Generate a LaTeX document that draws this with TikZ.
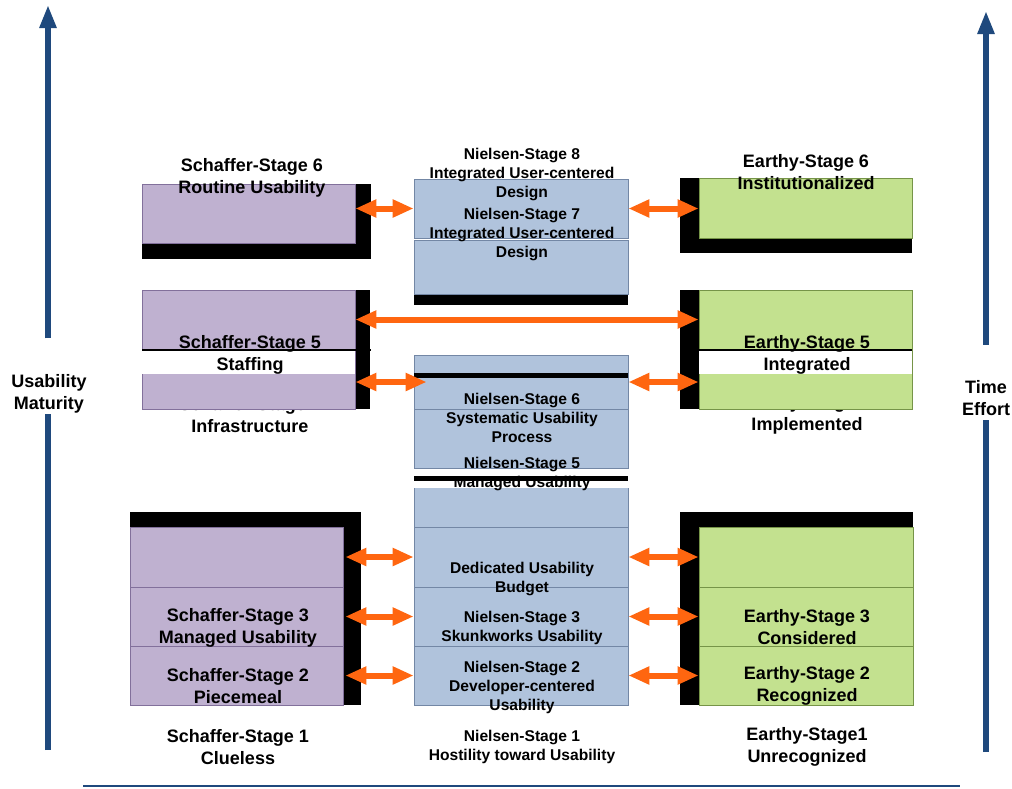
\documentclass[tikz,border=0pt]{standalone}
\usepackage{fontspec}
\setmainfont{Liberation Sans}
\usetikzlibrary{arrows.meta,fit}
\definecolor{purp}{RGB}{191,177,208}
\definecolor{purpline}{RGB}{130,112,155}
\definecolor{bluef}{RGB}{176,195,220}
\definecolor{blueline}{RGB}{115,135,165}
\definecolor{greenf}{RGB}{195,225,143}
\definecolor{greenline}{RGB}{118,148,72}
\definecolor{oran}{RGB}{255,102,16}
\definecolor{navy}{RGB}{31,73,125}
\begin{document}
\begin{tikzpicture}[x=1pt,y=-1pt,
  pbox/.style={fill=purp,draw=purpline,line width=0.8pt,inner sep=0pt},
  bbox/.style={fill=bluef,draw=blueline,line width=0.8pt,inner sep=0pt},
  gbox/.style={fill=greenf,draw=greenline,line width=0.8pt,inner sep=0pt},
  big/.style={font=\fontsize{18}{22}\selectfont\bfseries,align=center,inner sep=0pt},
  small/.style={font=\fontsize{15.6}{19}\selectfont\bfseries,align=center,inner sep=0pt},
  oarr/.style={draw=oran,line width=6pt,{Triangle[length=21pt,width=17pt]}-{Triangle[length=21pt,width=17pt]}},
  barr/.style={draw=navy,line width=5.5pt},
  btip/.style={-{Triangle[length=23pt,width=16pt]}},
]
\useasboundingbox (0,0) rectangle (1012,788);

% ---------- side axes ----------
\node[big] (um) at (49,394) {Usability\\Maturity};
\coordinate (lb) at (48,750);
\coordinate (lt) at (48,5);
\draw[barr] (lb) -- (lb |- um.south);
\draw[barr,btip] ([yshift=36pt]lt |- um.north) -- (lt);

\node[big] (te) at (986,398.5) {Time\\Effort};
\coordinate (rb) at (986,752);
\coordinate (rt) at (986,11);
\draw[barr] (rb) -- ([yshift=-4pt]rb |- te.south);
\draw[barr,btip] ([yshift=36pt]rt |- te.north) -- (rt);

\coordinate (bl) at (83,786);
\coordinate (br) at (960,786);
\draw[navy,line width=2pt] (bl) -- (br);

% ---------- top row ----------
\fill[black] (142,184) rectangle (371,259);
\node[pbox,fit={(142,184) (355,243)}] (s6) {};
\node[big] (ts6) at (252,178) {Schaffer-Stage 6\\Routine Usability};

\fill[black] (414,293) rectangle (628,305);
\node[bbox,fit={(414,179) (628,238)}] (n8) {};
\node[bbox,fit={(414,240) (628,294)}] (n7) {};
\node[small] (tn8) at (522,174) {Nielsen-Stage 8\\Integrated User-centered\\Design};
\node[small] (tn7) at (522,234) {Nielsen-Stage 7\\Integrated User-centered\\Design};

\fill[black] (680,178) rectangle (912,253);
\node[gbox,fit={(699,178) (912,238)}] (e6) {};
\node[big] (te6) at (806,172.5) {Earthy-Stage 6\\Institutionalized};

\draw[oarr] (s6.east |- n8.west) -- (n8.west);
\draw[oarr] (n8.east) -- (n8.east -| e6.west);

% ---------- second row ----------
\node[big] (ts4) at (250,415) {Schaffer-Stage 4\\Infrastructure};
\fill[black] (142,290) rectangle (370,409);
\node[pbox,fit={(142,290) (355,409)}] (s5) {};
\fill[white] (141.6,350) rectangle (355,374);
\draw[black,line width=1.2pt] (142,350) -- (371,350);
\node[big] (ts5) at (250,355) {Schaffer-Stage 5\\Staffing};

\node[big] (te4) at (807,415) {Earthy-Stage 4\\Implemented};
\fill[black] (680,290) rectangle (912,409);
\node[gbox,fit={(699,290) (912,409)}] (e5) {};
\fill[white] (699,350) rectangle (912.4,374);
\draw[black,line width=1.2pt] (680,350) -- (912,350);
\node[big] (te5) at (807,355) {Earthy-Stage 5\\Integrated};

% ---------- middle stack ----------
\node[bbox,fit={(414,468) (628,527)}] (c3) {};
\fill[white] (413.5,468) rectangle (628.5,488);
\node[bbox,fit={(414,355) (628,409)}] (c1) {};
\node[bbox,fit={(414,409) (628,468)}] (c2) {};
\node[bbox,fit={(414,527) (628,587)}] (c4) {};
\node[bbox,fit={(414,587) (628,646)}] (c5) {};
\node[bbox,fit={(414,646) (628,705)}] (c6) {};
\fill[black] (414,373) rectangle (628,378);

\node[small] (tn6) at (522,418) {Nielsen-Stage 6\\Systematic Usability\\Process};
\node[small] (tn5) at (522,473.5) {Nielsen-Stage 5\\Managed Usability};
\fill[black] (414,476) rectangle (628,481);
\node[small] (tn4) at (522,578.5) {Dedicated Usability\\Budget};
\node[small] (tn3) at (522,628) {Nielsen-Stage 3\\Skunkworks Usability};
\node[small] (tn2) at (522,687) {Nielsen-Stage 2\\Developer-centered\\Usability};
\node[small] (tn1) at (522,746.5) {Nielsen-Stage 1\\Hostility toward Usability};

\draw[oarr] ([yshift=30pt]s5.east) -- ([yshift=30pt]s5.east -| e5.west);
\draw[oarr] (s5.east |- c1.west) -- ([xshift=13pt]c1.west);
\draw[oarr] (c1.east) -- (c1.east -| e5.west);

% ---------- bottom left ----------
\fill[black] (130,512) rectangle (361,705);
\node[pbox,fit={(130,527) (343,587)}] (s4c) {};
\node[pbox,fit={(130,587) (343,646)}] (s3) {};
\node[pbox,fit={(130,646) (343,705)}] (s2) {};
\node[big] (ts3) at (238,627.5) {Schaffer-Stage 3\\Managed Usability};
\node[big] (ts2) at (238,686) {Schaffer-Stage 2\\Piecemeal};
\node[big] (ts1) at (238,747) {Schaffer-Stage 1\\Clueless};

% ---------- bottom right ----------
\fill[black] (680,512) rectangle (913,705);
\node[gbox,fit={(699,527) (913,587)}] (e4c) {};
\node[gbox,fit={(699,587) (913,646)}] (e3) {};
\node[gbox,fit={(699,646) (913,705)}] (e2) {};
\node[big] (te3) at (807,627.5) {Earthy-Stage 3\\Considered};
\node[big] (te2) at (807,686) {Earthy-Stage 2\\Recognized};
\node[big] (te1) at (807,747) {Earthy-Stage1\\Unrecognized};

% ---------- bottom arrows ----------
\draw[oarr] ([xshift=2pt]s4c.east) -- (c4.west);
\draw[oarr] ([xshift=2pt]s3.east) -- (c5.west);
\draw[oarr] ([xshift=2pt]s2.east) -- (c6.west);
\draw[oarr] (c4.east) -- (e4c.west);
\draw[oarr] (c5.east) -- (e3.west);
\draw[oarr] (c6.east) -- (e2.west);
\end{tikzpicture}
\end{document}
